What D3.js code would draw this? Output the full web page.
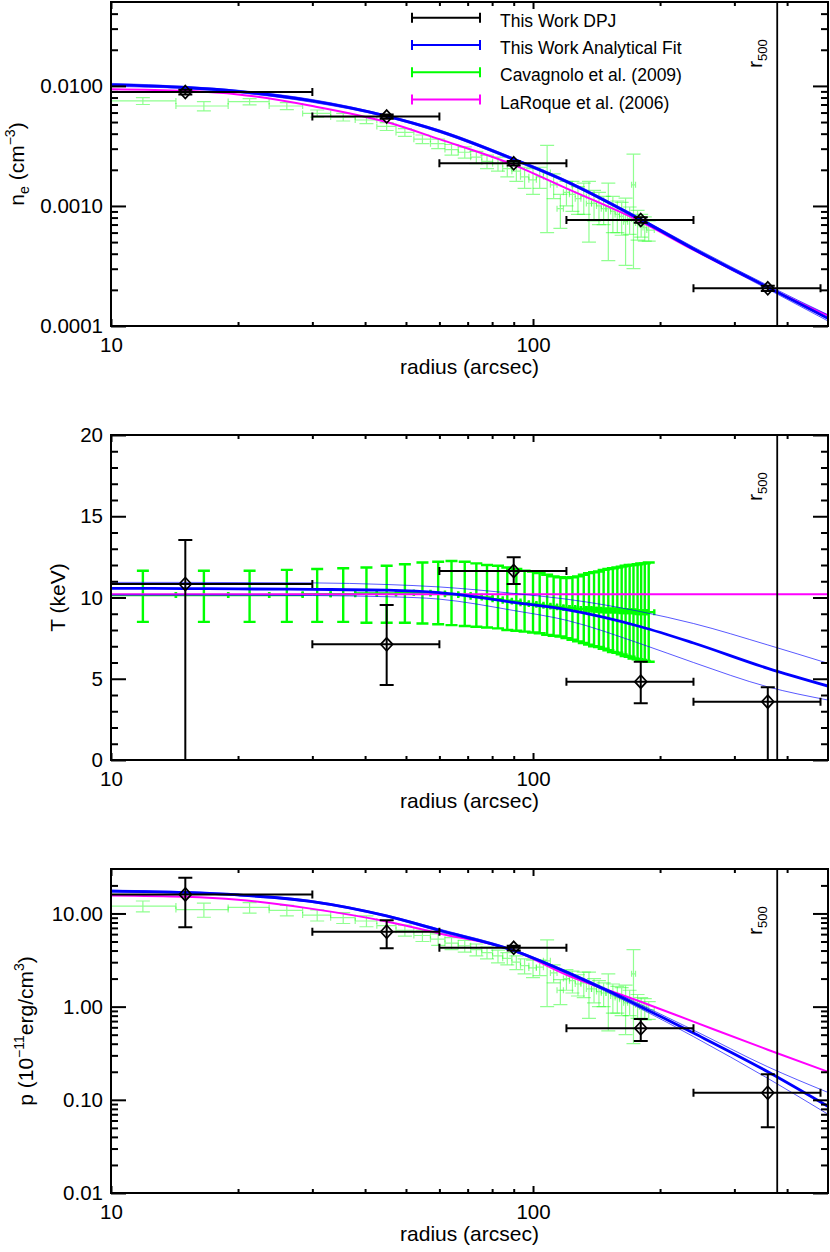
<!DOCTYPE html>
<html>
<head>
<meta charset="utf-8">
<script src="https://cdn.jsdelivr.net/npm/d3@7"></script>
<style>
  body { margin: 0; background: #fff; }
  svg text { font-family: "Liberation Sans", Arial, Helvetica, sans-serif; fill: #000; }
</style>
</head>
<body>
<svg id="profiles" width="830" height="1252"></svg>
<script>
// ---- this work, deprojected bins (DPJ) ----
const dpjRadius = [15, 45, 90, 180, 360];
const dpjRadiusLo = [0, 30, 60, 120, 240];
const dpjRadiusHi = [30, 60, 120, 240, 480];
const dpjDensity = [0.0089, 0.00555, 0.00227, 0.000764, 0.000206];
const dpjDensityErr = [0.0004, 0.00022, 0.0001, 0.00004, 0.00001];
const dpjTemp = [10.83, 7.12, 11.63, 4.82, 3.59];
const dpjTempLo = [0, 4.62, 10.83, 3.49, 0];
const dpjTempHi = [13.54, 9.54, 12.47, 6.05, 4.47];
const dpjPressure = [16.0, 6.36, 4.28, 0.586, 0.119];
const dpjPressureLo = [7.13, 4.24, 4.0, 0.428, 0.0507];
const dpjPressureHi = [24.2, 8.47, 4.5, 0.738, 0.188];

// ---- this work, analytical fit (best + two bounds) ----
const fitRadius = [10, 15, 20, 30, 45, 60, 90, 120, 180, 240, 360, 500];
const fitDensity = [0.0102, 0.0097, 0.0090, 0.0075, 0.0056, 0.0042, 0.00245, 0.0016, 0.00077, 0.00044, 0.00021, 0.000116];
const fitDensityUp = [0.0105, 0.0099, 0.0092, 0.0077, 0.0057, 0.0043, 0.00251, 0.00164, 0.00079, 0.000455, 0.000218, 0.000124];
const fitDensityDown = [0.0099, 0.0095, 0.0088, 0.0073, 0.0055, 0.0041, 0.00239, 0.00156, 0.00075, 0.000428, 0.000203, 0.000110];
const fitTemp = [10.56, 10.55, 10.53, 10.5, 10.45, 10.3, 9.7, 9.25, 8.2, 7.2, 5.64, 4.55];
const fitTempUp = [10.93, 10.93, 10.92, 10.9, 10.8, 10.65, 10.25, 9.9, 9.13, 8.4, 7.08, 5.95];
const fitTempDown = [10.15, 10.15, 10.14, 10.12, 10.05, 9.9, 9.2, 8.6, 7.15, 6.0, 4.5, 3.69];
const fitPressure = [17.4, 16.8, 15.8, 13.4, 9.4, 6.6, 4.0, 2.35, 1.0, 0.52, 0.2, 0.085];
const fitPressureUp = [17.8, 17.1, 16.1, 13.7, 9.6, 6.8, 4.1, 2.42, 1.05, 0.56, 0.226, 0.12];
const fitPressureDown = [17.0, 16.5, 15.5, 13.1, 9.2, 6.4, 3.9, 2.28, 0.95, 0.477, 0.17, 0.07];

// ---- LaRoque et al. (2006) ----
const laroqueDensity = [0.0094, 0.0091, 0.0085, 0.0068, 0.0050, 0.0036, 0.0022, 0.0014, 0.00074, 0.00043, 0.00021, 0.000122];
const laroqueTemp = [10.2, 10.2, 10.2, 10.2, 10.2, 10.2, 10.2, 10.2, 10.2, 10.2, 10.2, 10.2];
const laroquePressure = [15.6, 15.1, 14.0, 11.2, 8.2, 6.1, 4.0, 2.2, 1.13, 0.69, 0.345, 0.2];

// ---- Cavagnolo et al. (2009) ----
const accRadius = [
  11.9, 16.6, 21.3, 26.1, 30.8, 35.5, 40.3, 45.0, 49.7, 54.7,
  59.6, 64.1, 68.9, 73.4, 77.8, 82.6, 86.9, 91.3, 95.5, 100.0,
  103.7, 108.0, 111.9, 116.1, 120.0, 124.0, 127.8, 131.9, 135.7, 139.5,
  143.3, 147.0, 150.8, 154.6, 158.4, 162.2, 165.7, 169.4, 173.0, 176.9,
  180.4, 184.0, 188.0];
const accDensity = [
  0.0075, 0.0068, 0.0074, 0.0068, 0.0059, 0.0055, 0.0052, 0.0046, 0.0041, 0.0036,
  0.0033, 0.00295, 0.0028, 0.00255, 0.00235, 0.00225, 0.00205, 0.00195, 0.00175, 0.00165,
  0.00175, 0.0019, 0.0015, 0.00095, 0.0013, 0.00125, 0.00115, 0.0012, 0.00105, 0.00105,
  0.001, 0.00095, 0.00095, 0.0009, 0.00085, 0.00082, 0.00074, 0.00078, 0.0015, 0.00072,
  0.0007, 0.00066, 0.00063];
const accDensityErr = [
  0.0005, 0.0006, 0.00045, 0.00045, 0.0004, 0.0004, 0.00035, 0.00035, 0.0003, 0.0003,
  0.0003, 0.0003, 0.0003, 0.0003, 0.0003, 0.0003, 0.0003, 0.00035, 0.00035, 0.0004,
  0.00035, 0.0013, 0.00035, 0.0003, 0.0003, 0.00035, 0.0003, 0.00035, 0.00055, 0.0003,
  0.0003, 0.00025, 0.0006, 0.0003, 0.00025, 0.00025, 0.00042, 0.0002, 0.0012, 0.0002,
  0.00015, 0.00015, 0.00012];
const accTemp = [
  10.15, 10.15, 10.15, 10.15, 10.2, 10.2, 10.25, 10.25, 10.3, 10.3,
  10.25, 10.2, 10.15, 10.05, 10.0, 9.9, 9.8, 9.75, 9.65, 9.6,
  9.55, 9.5, 9.45, 9.4, 9.35, 9.35, 9.3, 9.3, 9.3, 9.25,
  9.25, 9.2, 9.2, 9.2, 9.2, 9.15, 9.15, 9.15, 9.15, 9.1,
  9.1, 9.1, 9.1];
const accTempLo = [
  8.5, 8.5, 8.5, 8.5, 8.5, 8.5, 8.45, 8.45, 8.45, 8.4,
  8.35, 8.3, 8.25, 8.2, 8.15, 8.1, 8.0, 7.95, 7.9, 7.85,
  7.8, 7.7, 7.65, 7.6, 7.5, 7.4, 7.3, 7.2, 7.1, 7.0,
  6.95, 6.85, 6.75, 6.65, 6.6, 6.5, 6.4, 6.35, 6.25, 6.2,
  6.15, 6.1, 6.05];
const accTempHi = [
  11.65, 11.65, 11.65, 11.7, 11.75, 11.8, 11.85, 11.95, 12.05, 12.15,
  12.2, 12.25, 12.2, 12.1, 12.0, 11.95, 11.85, 11.75, 11.65, 11.6,
  11.5, 11.4, 11.3, 11.25, 11.2, 11.25, 11.3, 11.4, 11.5, 11.55,
  11.6, 11.7, 11.75, 11.8, 11.85, 11.9, 11.95, 12.0, 12.0, 12.05,
  12.1, 12.1, 12.15];
const accPressure = [
  12.0, 11.0, 11.6, 10.8, 9.6, 9.0, 8.3, 7.4, 6.6, 5.8,
  5.3, 4.8, 4.5, 4.1, 3.8, 3.5, 3.3, 3.0, 2.75, 2.6,
  2.65, 3.1, 2.3, 1.5, 2.0, 1.9, 1.75, 1.8, 1.55, 1.55,
  1.45, 1.4, 1.4, 1.3, 1.25, 1.2, 1.1, 1.15, 2.25, 1.05,
  1.0, 0.97, 0.93];
const accPressureErr = [
  1.6, 1.9, 1.5, 1.4, 1.3, 1.2, 1.1, 1.0, 0.9, 0.8,
  0.75, 0.7, 0.65, 0.6, 0.55, 0.55, 0.5, 0.5, 0.5, 0.55,
  0.5, 2.1, 0.5, 0.45, 0.5, 0.5, 0.45, 0.55, 0.8, 0.45,
  0.45, 0.4, 0.85, 0.45, 0.4, 0.4, 0.6, 0.35, 1.85, 0.3,
  0.25, 0.25, 0.2];

const r500 = 379;
const legendLabels = ["This Work DPJ", "This Work Analytical Fit", "Cavagnolo et al. (2009)", "LaRoque et al. (2006)"];
const legendColors = ["#000000", "#0000ff", "#00ff00", "#ff00ff"];

// ---- layout ----
const svg = d3.select("#profiles");
const left = 111, right = 828;
const x = d3.scaleLog().domain([10, 500]).range([left, right]);

const minus = "\u2212";
const panels = [
  {
    id: 1, top: 2, bottom: 326, log: true, domain: [1e-4, 0.05], fmt: d3.format(".4f"),
    titleX: 24,
    title: [{ t: "n", s: 21 }, { t: "e", s: 14, dy: 5 }, { t: " (cm", s: 21, dy: -5 }, { t: minus + "3", s: 14, dy: -9 }, { t: ")", s: 21, dy: 9 }],
    dpj: { v: dpjDensity, lo: dpjDensity.map((v, i) => v - dpjDensityErr[i]), hi: dpjDensity.map((v, i) => v + dpjDensityErr[i]) },
    fit: [fitDensity, fitDensityUp, fitDensityDown], laroque: laroqueDensity,
    acc: { v: accDensity, lo: accDensity.map((v, i) => v - accDensityErr[i]), hi: accDensity.map((v, i) => v + accDensityErr[i]) },
    bright: false, legend: true
  },
  {
    id: 2, top: 435, bottom: 760, log: false, domain: [0, 20], fmt: d3.format("d"),
    titleX: 65,
    title: [{ t: "T (keV)", s: 21 }],
    dpj: { v: dpjTemp, lo: dpjTempLo, hi: dpjTempHi },
    fit: [fitTemp, fitTempUp, fitTempDown], laroque: laroqueTemp,
    acc: { v: accTemp, lo: accTempLo, hi: accTempHi },
    bright: true, legend: false
  },
  {
    id: 3, top: 869, bottom: 1193, log: true, domain: [0.01, 30], fmt: d3.format(".2f"),
    titleX: 33,
    title: [{ t: "p (10", s: 21 }, { t: minus + "11", s: 14, dy: -9 }, { t: "erg/cm", s: 21, dy: 9 }, { t: "3", s: 14, dy: -9 }, { t: ")", s: 21, dy: 9 }],
    dpj: { v: dpjPressure, lo: dpjPressureLo, hi: dpjPressureHi },
    fit: [fitPressure, fitPressureUp, fitPressureDown], laroque: laroquePressure,
    acc: { v: accPressure, lo: accPressure.map((v, i) => v - accPressureErr[i]), hi: accPressure.map((v, i) => v + accPressureErr[i]) },
    bright: false, legend: false
  }
];

function renderPanel(p) {
  const y = (p.log ? d3.scaleLog() : d3.scaleLinear()).domain(p.domain).range([p.bottom, p.top]);
  const g = svg.append("g");

  svg.append("clipPath").attr("id", "clip" + p.id)
    .append("rect")
    .attr("x", left).attr("y", p.top)
    .attr("width", right - left).attr("height", p.bottom - p.top);
  const plot = g.append("g").attr("clip-path", `url(#clip${p.id})`);

  renderAccept(plot, p, y);
  renderCurves(plot, p, y);
  renderDpj(plot, p, y);

  g.append("line")
    .attr("x1", x(r500)).attr("x2", x(r500))
    .attr("y1", p.top).attr("y2", p.bottom)
    .attr("stroke", "#000").attr("stroke-width", 1.8);

  renderAxes(g, p, y);
  renderLabels(g, p);
  if (p.legend) renderLegend(g);
}

function renderAccept(plot, p, y) {
  const n = accRadius.length;
  const edges = [];
  for (let i = 0; i < n - 1; i++) edges.push((accRadius[i] + accRadius[i + 1]) / 2);
  edges.unshift(2 * accRadius[0] - edges[0]);
  edges.push(2 * accRadius[n - 1] - edges[n - 2]);

  const rows = accRadius.map((r, i) => ({
    r, x0: edges[i], x1: edges[i + 1], v: p.acc.v[i], lo: p.acc.lo[i], hi: p.acc.hi[i]
  }));
  const cap = p.bright ? 6 : 7;
  const tick = 3;

  plot.append("g")
    .attr("fill", "none")
    .attr("stroke", p.bright ? "#00ff00" : "#22ff22")
    .attr("stroke-opacity", p.bright ? 1 : 0.5)
    .attr("stroke-width", p.bright ? 2.4 : 1.2)
    .selectAll("path")
    .data(rows)
    .enter()
    .append("path")
    .attr("d", d => {
      const cx = x(d.r), cy = y(d.v), a = x(d.x0), b = x(d.x1), ylo = y(d.lo), yhi = y(d.hi);
      return `M${a},${cy}H${b}M${a},${cy - tick}V${cy + tick}M${b},${cy - tick}V${cy + tick}` +
        `M${cx},${ylo}V${yhi}M${cx - cap},${ylo}H${cx + cap}M${cx - cap},${yhi}H${cx + cap}`;
    });
}

function renderCurves(plot, p, y) {
  const line = d3.line()
    .x((d, i) => x(fitRadius[i]))
    .y(d => y(d))
    .curve(d3.curveMonotoneX);

  plot.append("path").attr("d", line(p.laroque))
    .attr("fill", "none").attr("stroke", "#ff00ff").attr("stroke-width", 2);

  [p.fit[1], p.fit[2]].forEach(series => {
    plot.append("path").attr("d", line(series))
      .attr("fill", "none").attr("stroke", "#0000ff").attr("stroke-opacity", 0.65).attr("stroke-width", 1);
  });

  plot.append("path").attr("d", line(p.fit[0]))
    .attr("fill", "none").attr("stroke", "#0000ff").attr("stroke-width", 2.8);
}

function renderDpj(plot, p, y) {
  const rows = dpjRadius.map((r, i) => ({
    r, x0: dpjRadiusLo[i], x1: dpjRadiusHi[i], v: p.dpj.v[i], lo: p.dpj.lo[i], hi: p.dpj.hi[i]
  }));
  const [xMin] = x.domain();

  const g = plot.append("g")
    .attr("fill", "none")
    .attr("stroke", "#000");

  g.selectAll("path.bar")
    .data(rows)
    .enter()
    .append("path")
    .attr("class", "bar")
    .attr("stroke-width", 2)
    .attr("d", d => {
      const cx = x(d.r), cy = y(d.v);
      const a = x(Math.max(d.x0, xMin)), b = x(d.x1);
      const ylo = y(d.lo), yhi = y(d.hi);
      let path = `M${a},${cy}H${b}M${b},${cy - 4}V${cy + 4}`;
      if (d.x0 >= xMin) path += `M${a},${cy - 4}V${cy + 4}`;
      path += `M${cx},${ylo}V${yhi}M${cx - 7},${ylo}H${cx + 7}M${cx - 7},${yhi}H${cx + 7}`;
      return path;
    });

  g.selectAll("path.mark")
    .data(rows)
    .enter()
    .append("path")
    .attr("class", "mark")
    .attr("stroke-width", 1.7)
    .attr("d", d => {
      const cx = x(d.r), cy = y(d.v);
      return `M${cx},${cy - 6.5}L${cx + 6},${cy}L${cx},${cy + 6.5}L${cx - 6},${cy}Z`;
    });
}

function sideTicks(g, axis, transform) {
  const a = g.append("g").attr("transform", transform).call(axis);
  a.select(".domain").remove();
  a.selectAll("line").attr("stroke-width", 2);
  a.attr("font-size", 20.5).attr("font-family", null);
  return a;
}

function renderAxes(g, p, y) {
  const xTicks = x.ticks().filter(v => v < 500);
  const xMajor = xTicks.filter(v => Math.abs(Math.log10(v) % 1) < 1e-9);
  const xMinor = xTicks.filter(v => !xMajor.includes(v));

  let yMajor, yMinor;
  if (p.log) {
    const t = y.ticks().filter(v => v < p.domain[1]);
    yMajor = t.filter(v => Math.abs(Math.log10(v) - Math.round(Math.log10(v))) < 1e-9);
    yMinor = t.filter(v => !yMajor.includes(v));
  } else {
    yMajor = y.ticks(4);
    yMinor = y.ticks(20).filter(v => !yMajor.includes(v));
  }

  // bottom / top
  sideTicks(g, d3.axisBottom(x).tickValues(xMinor).tickSize(-4).tickFormat(""), `translate(0,${p.bottom})`);
  sideTicks(g, d3.axisBottom(x).tickValues(xMajor).tickSize(-7).tickPadding(11).tickFormat(d3.format("d")), `translate(0,${p.bottom})`);
  sideTicks(g, d3.axisTop(x).tickValues(xMinor).tickSize(-4).tickFormat(""), `translate(0,${p.top})`);
  sideTicks(g, d3.axisTop(x).tickValues(xMajor).tickSize(-7).tickFormat(""), `translate(0,${p.top})`);

  // left / right
  sideTicks(g, d3.axisLeft(y).tickValues(yMinor).tickSize(-7).tickFormat(""), `translate(${left},0)`);
  sideTicks(g, d3.axisLeft(y).tickValues(yMajor).tickSize(-15).tickPadding(8).tickFormat(p.fmt), `translate(${left},0)`);
  sideTicks(g, d3.axisRight(y).tickValues(yMinor).tickSize(-7).tickFormat(""), `translate(${right},0)`);
  sideTicks(g, d3.axisRight(y).tickValues(yMajor).tickSize(-15).tickFormat(""), `translate(${right},0)`);

  g.append("rect")
    .attr("x", left).attr("y", p.top)
    .attr("width", right - left).attr("height", p.bottom - p.top)
    .attr("fill", "none").attr("stroke", "#000").attr("stroke-width", 2);
}

function renderLabels(g, p) {
  g.append("text")
    .attr("x", (left + right) / 2)
    .attr("y", p.bottom + 48)
    .attr("text-anchor", "middle")
    .attr("font-size", 21)
    .text("radius (arcsec)");

  const yt = g.append("text")
    .attr("transform", `translate(${p.titleX},${(p.top + p.bottom) / 2}) rotate(-90)`)
    .attr("text-anchor", "middle");
  p.title.forEach(part => {
    yt.append("tspan")
      .attr("font-size", part.s)
      .attr("dy", part.dy || 0)
      .text(part.t);
  });

  const rt = g.append("text")
    .attr("transform", `translate(${x(r500) - 15},${p.top + 66}) rotate(-90)`)
    .attr("text-anchor", "start");
  rt.append("tspan").attr("font-size", 21).text("r");
  rt.append("tspan").attr("font-size", 13).attr("dy", 5).text("500");
}

function renderLegend(g) {
  const rowY = d3.scaleLinear().domain([0, 1]).range([26.7, 54]);
  const lg = g.append("g");
  legendLabels.forEach((label, i) => {
    const base = rowY(i);
    const ly = base - 9;
    lg.append("path")
      .attr("d", `M412,${ly}H480M412,${ly - 5}V${ly + 5}M480,${ly - 5}V${ly + 5}`)
      .attr("fill", "none")
      .attr("stroke", legendColors[i])
      .attr("stroke-width", 2);
    lg.append("text")
      .attr("x", 500)
      .attr("y", base)
      .attr("font-size", 17.5)
      .text(label);
  });
}

panels.forEach(renderPanel);
</script>
</body>
</html>
